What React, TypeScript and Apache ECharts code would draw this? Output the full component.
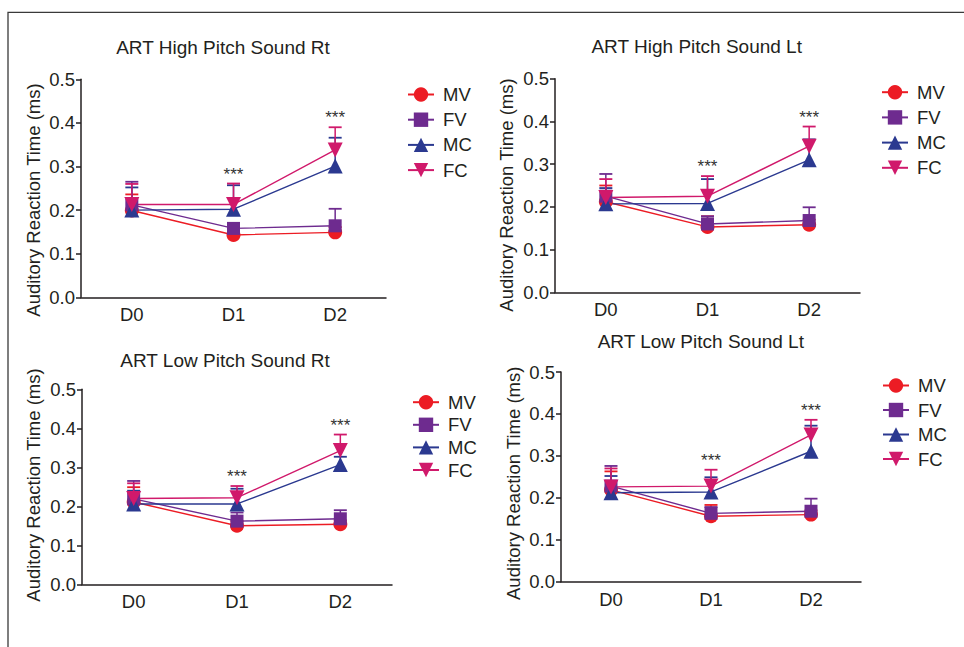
import React, { useEffect, useRef } from "react";
import * as echarts from "echarts";

const categories = ["D0", "D1", "D2"];
const groups = ["MV", "FV", "MC", "FC"];
const yTicks = [0, 0.1, 0.2, 0.3, 0.4, 0.5];
const yName = "Auditory Reaction Time (ms)";
const sigCats = [1, 2];
const sigLabel = "***";

const titles = [
  "ART High Pitch Sound Rt",
  "ART High Pitch Sound Lt",
  "ART Low Pitch Sound Rt",
  "ART Low Pitch Sound Lt",
];

// means per group: MV, FV, MC, FC
const hiRtMeans = [
  [0.199, 0.143, 0.149],
  [0.212, 0.158, 0.164],
  [0.2, 0.202, 0.301],
  [0.213, 0.213, 0.338],
];
const hiRtErrs = [
  [0.037, 0.015, 0.012],
  [0.053, 0.012, 0.039],
  [0.052, 0.055, 0.065],
  [0.047, 0.048, 0.052],
];
const hiLtMeans = [
  [0.212, 0.153, 0.158],
  [0.225, 0.16, 0.168],
  [0.207, 0.208, 0.31],
  [0.222, 0.225, 0.342],
];
const hiLtErrs = [
  [0.038, 0.025, 0.012],
  [0.052, 0.018, 0.031],
  [0.037, 0.057, 0.048],
  [0.043, 0.047, 0.046],
];
const loRtMeans = [
  [0.211, 0.15, 0.154],
  [0.219, 0.162, 0.168],
  [0.206, 0.206, 0.307],
  [0.22, 0.222, 0.343],
];
const loRtErrs = [
  [0.038, 0.012, 0.01],
  [0.046, 0.022, 0.022],
  [0.034, 0.039, 0.02],
  [0.039, 0.03, 0.041],
];
const loLtMeans = [
  [0.219, 0.156, 0.16],
  [0.228, 0.163, 0.168],
  [0.212, 0.214, 0.311],
  [0.226, 0.228, 0.35],
];
const loLtErrs = [
  [0.044, 0.027, 0.01],
  [0.048, 0.015, 0.03],
  [0.04, 0.035, 0.061],
  [0.044, 0.039, 0.036],
];

const panelMeans = [hiRtMeans, hiLtMeans, loRtMeans, loLtMeans];
const panelErrs = [hiRtErrs, hiLtErrs, loRtErrs, loLtErrs];

const FONT = "'Liberation Sans', Arial, Helvetica, sans-serif";
const INK = "#231f20";
const colors = ["#ec1c24", "#6e2b8f", "#2b3990", "#d0196b"];
const symbols = ["circle", "rect", "triangle", "triangle"];
const symbolRot = [0, 0, 0, 180];
const symbolSizes = [14, 13, 15, 15];

// layout per panel
const grids = [
  { left: 81, top: 79.3, width: 305, height: 218 },
  { left: 555, top: 78.7, width: 305, height: 213.6 },
  { left: 82, top: 389.3, width: 310, height: 195 },
  { left: 561, top: 372, width: 300, height: 209.7 },
];
const titlePos = [
  { x: 223, y: 47.7 },
  { x: 696.7, y: 46.7 },
  { x: 225, y: 360.7 },
  { x: 700.8, y: 341.7 },
];
const yNamePos = [
  { x: 33, y: 200 },
  { x: 506.7, y: 195 },
  { x: 33.3, y: 485 },
  { x: 513.3, y: 483.3 },
];
const legendPos = [
  { left: 407, top: 85, gap: 6.2 },
  { left: 881, top: 82.7, gap: 6.2 },
  { left: 412, top: 392.7, gap: 3.6 },
  { left: 882, top: 376, gap: 5.5 },
];

export default function App() {
  const ref = useRef<HTMLDivElement>(null);
  useEffect(() => {
    if (!ref.current) return;
    const chart = echarts.init(ref.current, null, { renderer: "svg" });

    const series: any[] = [];
    panelMeans.forEach((means, p) => {
      const errs = panelErrs[p];
      groups.forEach((g, gi) => {
        const color = colors[gi];
        series.push({
          type: "custom",
          name: g + "-err" + p,
          xAxisIndex: p,
          yAxisIndex: p,
          z: 1,
          silent: true,
          data: categories.map((_, i) => [i, means[gi][i], errs[gi][i]]),
          encode: { x: 0, y: 1 },
          renderItem: (params: any, api: any) => {
            const x = api.value(0);
            const m = api.value(1);
            const e = api.value(2);
            const p0 = api.coord([x, m]);
            const p1 = api.coord([x, m + e]);
            const half = 6.5;
            return {
              type: "group",
              children: [
                {
                  type: "line",
                  shape: { x1: p0[0], y1: p0[1], x2: p1[0], y2: p1[1] },
                  style: { stroke: color, lineWidth: 1.5 },
                },
                {
                  type: "line",
                  shape: { x1: p1[0] - half, y1: p1[1], x2: p1[0] + half, y2: p1[1] },
                  style: { stroke: color, lineWidth: 1.8 },
                },
              ],
            };
          },
        });
      });
      groups.forEach((g, gi) => {
        series.push({
          type: "line",
          name: g,
          xAxisIndex: p,
          yAxisIndex: p,
          z: 3,
          data: means[gi],
          symbol: symbols[gi],
          symbolRotate: symbolRot[gi],
          symbolSize: symbolSizes[gi],
          showAllSymbol: true,
          lineStyle: { color: colors[gi], width: 1.4 },
          itemStyle: { color: colors[gi], borderWidth: 0 },
          emphasis: { disabled: true },
        });
      });
      // significance stars above highest error bar
      const sigData = sigCats.map((ci) => {
        let top = 0;
        groups.forEach((_, gi) => {
          top = Math.max(top, means[gi][ci] + errs[gi][ci]);
        });
        return [ci, top];
      });
      series.push({
        type: "custom",
        name: "sig" + p,
        xAxisIndex: p,
        yAxisIndex: p,
        z: 4,
        silent: true,
        data: sigData,
        encode: { x: 0, y: 1 },
        renderItem: (params: any, api: any) => {
          const pt = api.coord([api.value(0), api.value(1)]);
          return {
            type: "text",
            x: pt[0],
            y: pt[1] - 1,
            style: {
              text: sigLabel,
              align: "center",
              verticalAlign: "bottom",
              fontSize: 17,
              fontFamily: FONT,
              fill: "#333333",
            },
          };
        },
      });
    });

    const graphics: any[] = [
      {
        type: "polyline",
        shape: { points: [[8, 647], [8, 12.3], [964, 12.3]] },
        style: { stroke: "#3a3a3a", lineWidth: 1.3, fill: null },
        silent: true,
      },
    ];
    yNamePos.forEach((pos) => {
      graphics.push({
        type: "text",
        x: pos.x,
        y: pos.y,
        rotation: Math.PI / 2,
        style: {
          text: yName,
          align: "center",
          verticalAlign: "middle",
          fontSize: 18.5,
          fontFamily: FONT,
          fill: INK,
        },
      });
    });
    titlePos.forEach((pos, i) => {
      graphics.push({
        type: "text",
        x: pos.x,
        y: pos.y,
        style: {
          text: titles[i],
          align: "center",
          verticalAlign: "middle",
          fontSize: 19,
          fontFamily: FONT,
          fill: INK,
        },
      });
    });

    const option: any = {
      animation: false,
      backgroundColor: "#ffffff",
      textStyle: { fontFamily: FONT },
      grid: grids.map((g) => ({ ...g, containLabel: false })),
      xAxis: grids.map((_, i) => ({
        type: "category",
        gridIndex: i,
        data: categories,
        boundaryGap: true,
        axisLine: { lineStyle: { color: INK, width: 1.5 } },
        axisTick: { alignWithLabel: true, length: 5, lineStyle: { color: INK, width: 1.5 } },
        axisLabel: { color: INK, fontSize: 18.5, margin: 8, fontFamily: FONT },
        splitLine: { show: false },
      })),
      yAxis: grids.map((_, i) => ({
        type: "value",
        gridIndex: i,
        min: yTicks[0],
        max: yTicks[yTicks.length - 1],
        interval: 0.1,
        axisLine: { show: true, lineStyle: { color: INK, width: 1.5 } },
        axisTick: { show: true, length: 5, lineStyle: { color: INK, width: 1.5 } },
        axisLabel: {
          color: INK,
          fontSize: 18.5,
          margin: 6,
          fontFamily: FONT,
          formatter: (v: number) => v.toFixed(1),
        },
        splitLine: { show: false },
      })),
      legend: legendPos.map((lp) => ({
        orient: "vertical",
        left: lp.left,
        top: lp.top,
        padding: 0,
        itemGap: lp.gap,
        itemWidth: 26,
        itemHeight: 18,
        selectedMode: false,
        data: groups,
        textStyle: {
          color: INK,
          fontSize: 18.5,
          lineHeight: 18,
          fontFamily: FONT,
          padding: [0, 0, 0, 4],
        },
      })),
      graphic: graphics,
      series,
    };
    chart.setOption(option);
    return () => chart.dispose();
  }, []);
  return (
    <div
      ref={ref}
      style={{ position: "fixed", left: 0, top: 0, width: 964, height: 647 }}
    />
  );
}
